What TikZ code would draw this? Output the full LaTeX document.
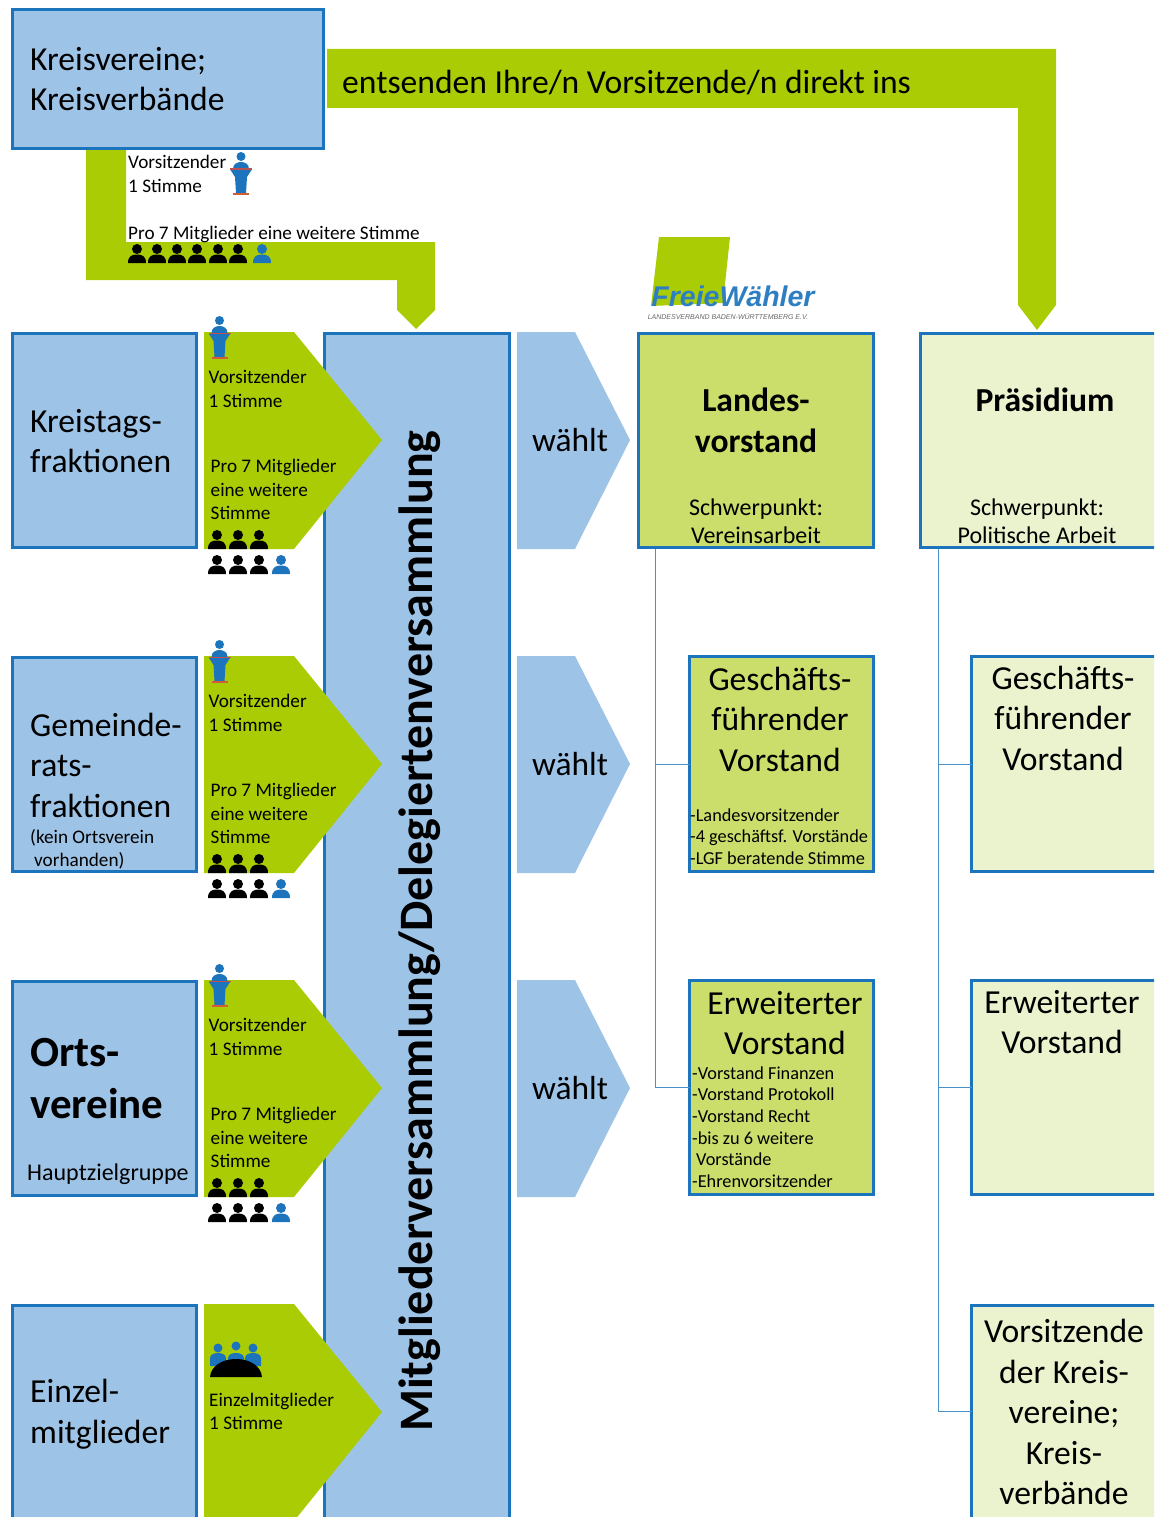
\documentclass[tikz,border=0pt]{standalone}
\usepackage{fontspec}
\setmainfont{Carlito}
\newfontfamily\logofont{Liberation Sans}
\usepackage{xcolor}
\usetikzlibrary{positioning, calc}
\definecolor{boxblue}{HTML}{9DC3E6}
\definecolor{edgeblue}{HTML}{1C75BC}
\definecolor{arrowgreen}{HTML}{AACC05}
\definecolor{vorstandgreen}{HTML}{CBDE6C}
\definecolor{praesidiumgreen}{HTML}{EBF2CE}
\definecolor{podiumred}{HTML}{C0504D}
\definecolor{logoblue}{HTML}{2E7FC2}
\newcommand{\fsize}[2]{\fontsize{#1}{#2}\selectfont}
\tikzset{
  blockbox/.style={draw=edgeblue, line width=3pt, anchor=north west, inner sep=0pt, outer sep=0pt, xshift=1.5pt, yshift=-1.5pt},
  greenarrow/.style={fill=arrowgreen},
  bigtext/.style={font=\fsize{33.6}{40.5}, align=left, anchor=west, inner sep=0pt},
  bigcenter/.style={font=\fsize{33.6}{40.5}, align=center, inner sep=0pt},
  smalltext/.style={font=\fsize{19.2}{23.3}, align=left, anchor=west, inner sep=0pt},
  listtext/.style={font=\fsize{18.3}{21.6}, align=left, anchor=west, inner sep=0pt},
  midtext/.style={font=\fsize{24}{28}, align=center, inner sep=0pt},
  trunk/.style={draw=edgeblue!80, line width=0.8pt},
  pics/person/.style={code={
    \fill[#1] (0,5) circle (5);
    \fill[#1] (-9,19) .. controls (-9,12) and (-5,10.5) .. (0,10.5) .. controls (5,10.5) and (9,12) .. (9,19) -- cycle;
  }},
  pics/lectern/.style={code={
    \fill[edgeblue] (0,4.5) circle (4.5);
    \fill[edgeblue] (-8,17) .. controls (-8,12) and (-4,10) .. (0,10) .. controls (4,10) and (8,12) .. (8,17) -- cycle;
    \fill[podiumred] (-11,16.5) rectangle (11,18);
    \fill[edgeblue] (-10.5,18) -- (10.5,18) -- (6,25) -- (5,41) -- (-5,41) -- (-6,25) -- cycle;
    \fill[podiumred!70!orange] (-8,41) rectangle (8,43);
  }},
  pics/meeting/.style={code={
    \foreach \hx/\hy in {8/6,26/4,43/6} {
      \fill[edgeblue] (\hx,\hy) circle (4.5);
      \fill[edgeblue] (\hx-8,24) -- (\hx-8,16) .. controls (\hx-8,12) and (\hx-3,11) .. (\hx,11) .. controls (\hx+3,11) and (\hx+8,12) .. (\hx+8,16) -- (\hx+8,24) -- cycle;
    }
    \fill[black] (0,35) .. controls (1,24) and (12,17) .. (26,17) .. controls (40,17) and (51,24) .. (52,35) -- cycle;
  }},
}
\begin{document}
\begin{tikzpicture}[x=1pt, y=-1pt]
  \path[use as bounding box, clip] (0,0) rectangle (1154,1517);

  % middle column, under the green arrows
  \node[blockbox, fill=boxblue, minimum width=185, minimum height=1200] (versammlung) at (323,332) {};

  % green bands from the top box
  \fill[greenarrow] (327,49) -- (1056,49) -- (1056,305) -- (1037,330) -- (1018,305) -- (1018,108) -- (327,108) -- cycle;
  \fill[greenarrow] (86,148) -- (126,148) -- (126,242) -- (435,242) -- (435,310) -- (416,329) -- (397,310) -- (397,280) -- (86,280) -- cycle;

  \node[blockbox, fill=boxblue, minimum width=311, minimum height=139] (kreis) at (11,8) {};
  \node[bigtext] (kreistext) at (30,79) {Kreisvereine;\\Kreisverbände};
  \node[bigtext, anchor=west] (entsenden) at (342,83) {entsenden Ihre/n Vorsitzende/n direkt ins};
  \node[smalltext] (topstimme) at (128,174) {Vorsitzender\\1 Stimme};
  \node[smalltext] (topmitglieder) at (128,234) {Pro 7 Mitglieder eine weitere Stimme};
  \pic at (241,152) {lectern};
  \foreach \px in {137,157,177,197,218,238} \pic at (\px,244) {person=black};
  \pic at (262,244) {person=edgeblue};

  % rows on the left
  \foreach \y/\nm in {332/kreistag,656/gemeinde,980/orts,1304/einzel} {
    \node[blockbox, fill=boxblue, minimum width=184, minimum height=214] (\nm) at (11,\y) {};
    \fill[greenarrow] (204,\y) -- (294,\y) -- ($(382,\y)+(0,108)$) -- ($(294,\y)+(0,217)$) -- ($(204,\y)+(0,217)$) -- cycle;
  }
  \foreach \y/\nm in {332/kreistag,656/gemeinde,980/orts} {
    \pic at (219.5,\y-16) {lectern};
    \node[smalltext] (\nm vors) at (208.5,\y+57) {Vorsitzender\\1 Stimme};
    \node[smalltext] (\nm pro) at (210.5,\y+157.5) {Pro 7 Mitglieder\\eine weitere\\Stimme};
    \foreach \px in {217,238,259} {
      \pic at (\px,\y+198) {person=black};
      \pic at (\px,\y+223) {person=black};
    }
    \pic at (281,\y+223) {person=edgeblue};
    \fill[boxblue] (517,\y) -- (575,\y) -- ($(630,\y)+(0,108)$) -- ($(575,\y)+(0,217)$) -- ($(517,\y)+(0,217)$) -- cycle;
    \node[midtext, font=\fsize{33.4}{40}] (\nm waehlt) at (570,\y+108) {wählt};
  }
  \pic at (210,1342) {meeting};
  \node[smalltext] (einzelstimme) at (209,1411.5) {Einzelmitglieder\\1 Stimme};

  \node[bigtext] (kreistagtext) at (30,441) {Kreistags-\\fraktionen};
  \node[bigtext] (gemeindetext) at (30,765) {Gemeinde-\\rats-\\fraktionen};
  \node[smalltext] (gemeindenote) at (30,849.5) {(kein Ortsverein\\\hspace*{4pt}vorhanden)};
  \node[bigtext, font=\fsize{43}{52}\bfseries] (ortstext) at (30,1079) {Orts-\\vereine};
  \node[midtext, anchor=west] (hauptziel) at (27,1174) {Hauptzielgruppe};
  \node[bigtext] (einzeltext) at (30,1414) {Einzel-\\mitglieder};

  \node[rotate=90, font=\fsize{48}{54}\bfseries, inner sep=0pt] (versammlungtext) at (420,931) {Mitgliederversammlung/Delegiertenversammlung};

  % logo
  \fill[arrowgreen] (659,237) -- (730,237) -- (723,303) -- (651,306) -- cycle;
  \node[font=\logofont\fsize{28.5}{31}\bfseries\itshape, text=logoblue, inner sep=0pt] (logo) at (733,296) {FreieWähler};
  \node[font=\logofont\fsize{7}{8}\itshape, text=black!60, inner sep=0pt] (logosub) at (728,317) {LANDESVERBAND BADEN-WÜRTTEMBERG E.V.};

  % Landesvorstand side
  \node[blockbox, fill=vorstandgreen, minimum width=235, minimum height=214] (landes) at (637,332) {};
  \node[bigcenter, font=\fsize{33.6}{41}\bfseries] (landestext) at (756,420) {Landes-\\vorstand};
  \node[midtext] (landesfokus) at (756,521) {Schwerpunkt:\\Vereinsarbeit};
  \node[blockbox, fill=vorstandgreen, minimum width=184, minimum height=215] (lvgf) at (688,655) {};
  \node[bigcenter] (lvgftext) at (780,719) {Geschäfts-\\führender\\Vorstand};
  \node[listtext] (lvgflist) at (690,836.5) {-Landesvorsitzender\\-4 geschäftsf. Vorstände\\-LGF beratende Stimme};
  \node[blockbox, fill=vorstandgreen, minimum width=184, minimum height=214] (lvew) at (688,979) {};
  \node[bigcenter] (lvewtext) at (785,1023) {Erweiterter\\Vorstand};
  \node[listtext] (lvewlist) at (692,1127) {-Vorstand Finanzen\\-Vorstand Protokoll\\-Vorstand Recht\\-bis zu 6 weitere\\\hspace*{4pt}Vorstände\\-Ehrenvorsitzender};

  % Praesidium side
  \node[blockbox, fill=praesidiumgreen, minimum width=260, minimum height=214] (praes) at (919,332) {};
  \node[bigcenter, font=\fsize{33.6}{41}\bfseries] (praestext) at (1045,400) {Präsidium};
  \node[midtext] (praesfokus) at (1037,521) {Schwerpunkt:\\Politische Arbeit};
  \node[blockbox, fill=praesidiumgreen, minimum width=200, minimum height=215] (prgf) at (970,655) {};
  \node[bigcenter] (prgftext) at (1063,718) {Geschäfts-\\führender\\Vorstand};
  \node[blockbox, fill=praesidiumgreen, minimum width=200, minimum height=214] (prew) at (970,979) {};
  \node[bigcenter] (prewtext) at (1062,1022) {Erweiterter\\Vorstand};
  \node[blockbox, fill=praesidiumgreen, minimum width=200, minimum height=240] (prkv) at (970,1304) {};
  \node[bigcenter] (prkvtext) at (1064,1412) {Vorsitzende\\der Kreis-\\vereine;\\Kreis-\\verbände};

  % thin lines between the boards
  \coordinate (lvtrunk) at (655,549);
  \coordinate (prtrunk) at (938,549);
  \draw[trunk] (lvtrunk) |- (lvgf.west);
  \draw[trunk] (lvtrunk) |- (lvew.west);
  \draw[trunk] (prtrunk) |- (prgf.west);
  \draw[trunk] (prtrunk) |- (prew.west);
  \draw[trunk] (prtrunk) |- (prkv.west |- 0,1411);
\end{tikzpicture}
\end{document}
